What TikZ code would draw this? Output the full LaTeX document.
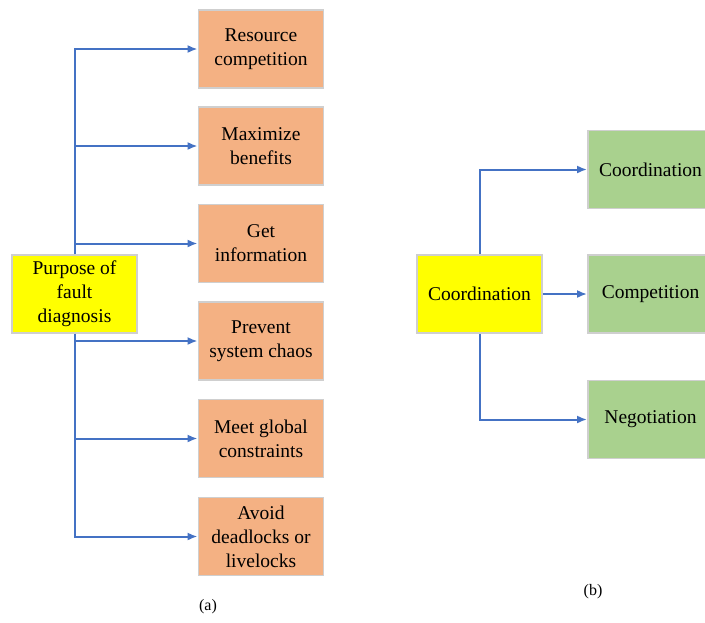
\documentclass[tikz,border=0pt]{standalone}
\usepackage{fontspec}
\newfontfamily\timesfont{Liberation Serif}
\usetikzlibrary{arrows.meta}
\definecolor{boxorange}{HTML}{F4B183}
\definecolor{boxgreen}{HTML}{A9D18E}
\definecolor{boxyellow}{HTML}{FFFF00}
\definecolor{boxedge}{HTML}{CFCFCF}
\definecolor{linkblue}{HTML}{4472C4}
\tikzset{
  card/.style={draw=boxedge, line width=1.8pt, minimum width=125pt, minimum height=78pt,
    align=center, inner sep=2pt, font=\timesfont\fontsize{19.5}{24}\selectfont, text=black},
  goal/.style={card, fill=boxorange},
  kind/.style={card, fill=boxgreen},
  root/.style={card, fill=boxyellow},
  link/.style={draw=linkblue, line width=2pt, -{Latex[length=10pt,width=8pt]}},
  caption/.style={font=\timesfont\fontsize{16}{19}\selectfont}
}
\begin{document}
\begin{tikzpicture}[x=1pt,y=-1pt]
\useasboundingbox (0,0) rectangle (705,622);
% purposes of fault diagnosis
\node[root] (p) at (74.5,294) {Purpose of\\fault\\diagnosis};
\node[goal] (g1) at (261,49) {Resource\\competition};
\node[goal] (g2) at (261,146) {Maximize\\benefits};
\node[goal] (g3) at (261,243.5) {Get\\information};
\node[goal] (g4) at (261,341) {Prevent\\system chaos};
\node[goal] (g5) at (261,438.5) {Meet global\\constraints};
\node[goal] (g6) at (261,536.5) {Avoid\\deadlocks or\\livelocks};
\draw[link] (p.north) |- (g1.west);
\draw[link] (p.north) |- (g2.west);
\draw[link] (p.north) |- (g3.west);
\draw[link] (p.south) |- (g4.west);
\draw[link] (p.south) |- (g5.west);
\draw[link] (p.south) |- (g6.west);
\node[caption] (ca) at (208,607) {(a)};
% kinds of coordination
\node[root] (c) at (479.5,294) {Coordination};
\node[kind] (k1) at (650.5,169.5) {Coordination};
\node[kind] (k2) at (650.5,294) {Competition};
\node[kind] (k3) at (650.5,419.5) {Negotiation};
\draw[link] (c.north) |- (k1.west);
\draw[link] (c.east) -- (k2.west);
\draw[link] (c.south) |- (k3.west);
\node[caption] (cb) at (593,592) {(b)};
\end{tikzpicture}
\end{document}
